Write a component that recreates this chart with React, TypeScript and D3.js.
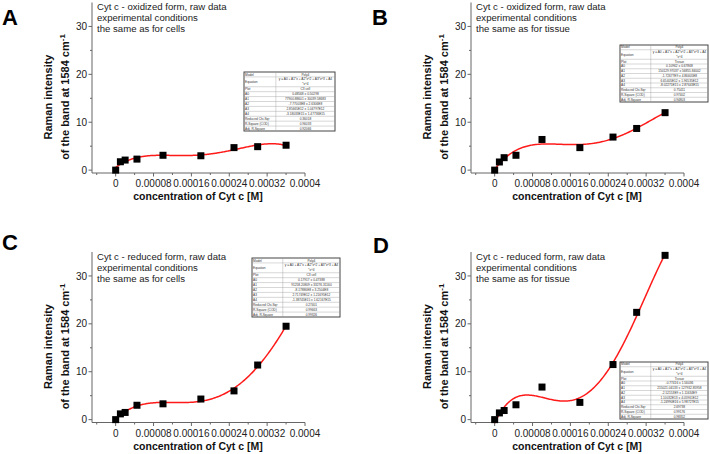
import React from "react";
import * as d3 from "d3";

// ---------- data ----------
const concentrations = [0, 0.00001, 0.00002, 0.000045, 0.0001, 0.00018, 0.00025, 0.0003, 0.00036];
const oxidizedCells = [0, 1.75, 2.1, 2.3, 3.1, 3.0, 4.7, 4.9, 5.2];
const oxidizedTissue = [0, 1.7, 2.6, 3.1, 6.4, 4.7, 6.9, 8.7, 12.0];
const reducedCells = [0, 1.2, 1.5, 3.0, 3.3, 4.3, 6.0, 11.4, 19.5];
const reducedTissue = [0, 1.4, 1.9, 3.1, 6.8, 3.6, 11.5, 22.4, 34.3];

const xTicks = [0, 0.00008, 0.00016, 0.00024, 0.00032, 0.0004];
const xTickLabels = ["0", "0.00008", "0.00016", "0.00024", "0.00032", "0.0004"];
const xMinorTicks = [-0.00004, 0.00004, 0.00012, 0.0002, 0.00028, 0.00036];
const yTicks = [0, 10, 20, 30];
const yMinorTicks = [5, 15, 25];

const panelLetters = ["A", "B", "C", "D"];
const annotations = [
  ["Cyt c - oxidized form, raw data", "experimental conditions", "the same as for cells"],
  ["Cyt c - oxidized form, raw data", "experimental conditions", "the same as for tissue"],
  ["Cyt c - reduced form, raw data", "experimental conditions", "the same as for cells"],
  ["Cyt c - reduced form, raw data", "experimental conditions", "the same as for tissue"],
];

const tableRowLabels = ["Model", "Equation", "Plot", "A0", "A1", "A2", "A3", "A4", "Reduced Chi-Sqr", "R-Square (COD)", "Adj. R-Square"];
const tableValuesA = ["Poly4", "y = A0 + A1*x + A2*x^2 + A3*x^3 + A4*x^4", "C3 cell", "0.48568 ± 0.50298", "77900.88601 ± 30039.58683", "-7.77003E8 ± 2.6306E8", "2.85665E12 ± 1.04797E12", "-3.18033E15 ± 1.47736E15", "0.36018", "0.96033", "0.92066"];
const tableValuesB = ["Poly4", "y = A0 + A1*x + A2*x^2 + A3*x^3 + A4*x^4", "Tissue", "0.10962 ± 0.67868", "150129.97037 ± 56855.84002", "-1.72677E9 ± 4.86605E8", "6.65405E12 ± 1.96535E12", "-8.02271E15 ± 2.87643E15", "0.75411", "0.97402", "0.94803"];
const tableValuesC = ["Poly4", "y = A0 + A1*x + A2*x^2 + A3*x^3 + A4*x^4", "C3 cell", "0.17917 ± 0.47388", "91258.20809 ± 33276.31160", "-8.17886E8 ± 3.2504E8", "2.71749E12 ± 1.21695E12", "-1.38745E15 ± 1.62167E15", "0.27401", "0.99663", "0.99326"];
const tableValuesD = ["Poly4", "y = A0 + A1*x + A2*x^2 + A3*x^3 + A4*x^4", "Tissue", "-0.77416 ± 1.56036", "215021.04133 ± 127932.85958", "-2.52153E9 ± 1.11634E9", "1.10032E13 ± 4.05961E12", "-1.24990E16 ± 5.98727E15", "2.69738", "0.99176", "0.98352"];

const seriesList = [oxidizedCells, oxidizedTissue, reducedCells, reducedTissue];
const tableList = [tableValuesA, tableValuesB, tableValuesC, tableValuesD];

// ---------- poly4 least-squares fit ----------
function polyFit(xs: number[], ys: number[], deg: number): number[] {
  const n = deg + 1;
  const A: number[][] = Array.from({ length: n }, () => new Array(n + 1).fill(0));
  xs.forEach((x, k) => {
    for (let i = 0; i < n; i++) {
      for (let j = 0; j < n; j++) A[i][j] += Math.pow(x, i + j);
      A[i][n] += Math.pow(x, i) * ys[k];
    }
  });
  for (let c = 0; c < n; c++) {
    let p = c;
    for (let r = c + 1; r < n; r++) if (Math.abs(A[r][c]) > Math.abs(A[p][c])) p = r;
    [A[c], A[p]] = [A[p], A[c]];
    for (let r = 0; r < n; r++) {
      if (r === c) continue;
      const f = A[r][c] / A[c][c];
      for (let j = c; j <= n; j++) A[r][j] -= f * A[c][j];
    }
  }
  return A.map((row, i) => row[n] / row[i]);
}

type PanelProps = {
  idx: number;
  ox: number;
  oy: number;
  letterPos: [number, number];
  tableBox: [number, number, number, number];
};

const FONT = "'Liberation Sans', Arial, sans-serif";

function Table({ box, values }: { box: [number, number, number, number]; values: string[] }) {
  const [x0, y0, x1, y1] = box;
  const units = 12;
  const rh = (y1 - y0) / units;
  const colX = x0 + (x1 - x0) * 0.35;
  const rows: { label: string; value: string; y: number; h: number }[] = [];
  let u = 0;
  tableRowLabels.forEach((lab, i) => {
    const h = lab === "Equation" ? 2 : 1;
    rows.push({ label: lab, value: values[i], y: y0 + u * rh, h: h * rh });
    u += h;
  });
  return (
    <g fontFamily={FONT} fontSize={3.2} fill="#333">
      <rect x={x0} y={y0} width={x1 - x0} height={y1 - y0} fill="#fff" stroke="#444" strokeWidth={1} />
      {rows.map((r, i) => (
        <g key={i}>
          {i > 0 && <line x1={x0} x2={x1} y1={r.y} y2={r.y} stroke="#999" strokeWidth={0.4} />}
          <text x={x0 + 1} y={r.y + r.h / 2 + 1.1}>{r.label}</text>
          {r.label === "Equation" ? (
            <>
              <text x={(colX + x1) / 2} y={r.y + rh / 2 + 1.1} textAnchor="middle">y = A0 + A1*x + A2*x^2 + A3*x^3 + A4</text>
              <text x={(colX + x1) / 2} y={r.y + rh * 1.5 + 1.1} textAnchor="middle">*x^4</text>
            </>
          ) : (
            <text x={(colX + x1) / 2} y={r.y + r.h / 2 + 1.1} textAnchor="middle">{r.value}</text>
          )}
        </g>
      ))}
      <line x1={colX} x2={colX} y1={y0} y2={y1} stroke="#999" strokeWidth={0.4} />
    </g>
  );
}

function Panel({ idx, ox, oy, letterPos, tableBox }: PanelProps) {
  const ys = seriesList[idx];
  const x = d3.scaleLinear().domain([-0.00005, 0.0004]).range([ox + 92, ox + 305]);
  const y = d3.scaleLinear().domain([-0.6, 35]).range([oy + 173, oy + 2.5]);
  const coef = polyFit(concentrations.map((c) => c * 1e4), ys, 4);
  const fitPts = d3.range(0, 3.6001, 0.02).map((u) => {
    const v = coef.reduce((s, c, i) => s + c * Math.pow(u, i), 0);
    return [u / 1e4, v] as [number, number];
  });
  const line = d3.line<[number, number]>().x((d) => x(d[0])).y((d) => y(d[1])).curve(d3.curveLinear);
  const axisX = x.range()[0];
  const axisY = y.range()[0];
  const axisCol = "#666";
  const yTitleCy = oy + 97;
  return (
    <g>
      <text x={letterPos[0]} y={letterPos[1]} fontFamily={FONT} fontWeight="bold" fontSize={22} fill="#000">
        {panelLetters[idx]}
      </text>
      {/* axes */}
      <line x1={axisX} x2={axisX} y1={y.range()[1]} y2={axisY} stroke={axisCol} strokeWidth={1} />
      <line x1={axisX} x2={x.range()[1]} y1={axisY} y2={axisY} stroke={axisCol} strokeWidth={1} />
      {xTicks.map((t, i) => (
        <g key={"xt" + i}>
          <line x1={x(t)} x2={x(t)} y1={axisY} y2={axisY + 3.5} stroke={axisCol} />
          <text x={x(t)} y={axisY + 14} textAnchor="middle" fontFamily={FONT} fontSize={10} fill="#222">
            {xTickLabels[i]}
          </text>
        </g>
      ))}
      {xMinorTicks.map((t, i) => (
        <line key={"xm" + i} x1={x(t)} x2={x(t)} y1={axisY} y2={axisY + 2} stroke={axisCol} />
      ))}
      {yTicks.map((t, i) => (
        <g key={"yt" + i}>
          <line x1={axisX - 3.5} x2={axisX} y1={y(t)} y2={y(t)} stroke={axisCol} />
          <text x={axisX - 5} y={y(t) + 3.6} textAnchor="end" fontFamily={FONT} fontSize={10} fill="#222">
            {t}
          </text>
        </g>
      ))}
      {yMinorTicks.map((t, i) => (
        <line key={"ym" + i} x1={axisX - 2} x2={axisX} y1={y(t)} y2={y(t)} stroke={axisCol} />
      ))}
      {/* titles */}
      <text x={ox + 198} y={oy + 200} textAnchor="middle" fontFamily={FONT} fontWeight="bold" fontSize={10.5} fill="#111">
        concentration of Cyt c [M]
      </text>
      <g transform={`translate(${ox + 52},${yTitleCy}) rotate(-90)`}>
        <text x={0} y={0} textAnchor="middle" fontFamily={FONT} fontWeight="bold" fontSize={11} fill="#111">
          Raman intensity
        </text>
      </g>
      <g transform={`translate(${ox + 69},${yTitleCy}) rotate(-90)`}>
        <text x={0} y={0} textAnchor="middle" fontFamily={FONT} fontWeight="bold" fontSize={11} fill="#111">
          of the band at 1584 cm
          <tspan dy={-4} fontSize={8}>-1</tspan>
        </text>
      </g>
      {/* annotation */}
      {annotations[idx].map((s, i) => (
        <text key={"an" + i} x={axisX + 5} y={oy + 10 + i * 11} fontFamily={FONT} fontSize={9.6} fill="#222">
          {s}
        </text>
      ))}
      {/* fit */}
      <path d={line(fitPts) || ""} fill="none" stroke="#ff1a1a" strokeWidth={1.5} />
      {/* points */}
      {concentrations.map((c, i) => (
        <rect key={"p" + i} x={x(c) - 3.5} y={y(ys[i]) - 3.5} width={7} height={7} fill="#000" />
      ))}
      <Table box={tableBox} values={tableList[idx]} />
    </g>
  );
}

export default function App() {
  return (
    <svg width={710} height={454} viewBox="0 0 710 454" style={{ display: "block", position: "absolute", left: 0, top: 0, background: "#fff" }}>
      <rect x={0} y={0} width={710} height={454} fill="#fff" />
      <Panel idx={0} ox={0} oy={0} letterPos={[2, 25]} tableBox={[244, 72, 335, 131]} />
      <Panel idx={1} ox={379} oy={0} letterPos={[372, 25]} tableBox={[620, 45, 708, 102]} />
      <Panel idx={2} ox={0} oy={249.5} letterPos={[2, 250]} tableBox={[252, 258, 340, 317]} />
      <Panel idx={3} ox={379} oy={249.5} letterPos={[373, 253]} tableBox={[620, 362, 708, 419]} />
    </svg>
  );
}
